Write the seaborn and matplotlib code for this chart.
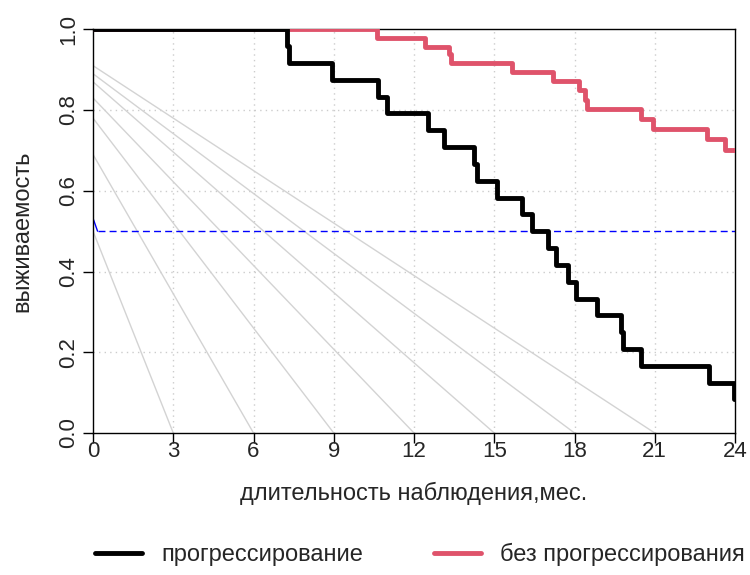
import numpy as np
import pandas as pd
import matplotlib
matplotlib.use("Agg")
import matplotlib.pyplot as plt
import seaborn as sns

# --- data ---
prog_times = [0, 7.24, 7.34, 8.95, 10.67, 11.0, 12.53, 13.13, 14.24, 14.34, 15.12, 16.03,
              16.4, 17.0, 17.31, 17.77, 18.04, 18.83, 19.75, 19.8, 20.47, 23.04, 23.96, 24.0]
prog_surv = [1.0, 0.958, 0.917, 0.875, 0.833, 0.792, 0.750, 0.708, 0.667, 0.625, 0.583, 0.542,
             0.500, 0.458, 0.417, 0.375, 0.333, 0.292, 0.250, 0.208, 0.167, 0.125, 0.083, 0.083]

noprog_times = [0, 10.63, 12.41, 13.31, 13.37, 15.67, 17.21, 18.18, 18.39, 18.46,
                20.47, 20.95, 22.94, 23.63, 24.0]
noprog_surv = [1.0, 0.978, 0.956, 0.938, 0.916, 0.895, 0.873, 0.850, 0.826, 0.802,
               0.778, 0.754, 0.728, 0.701, 0.701]

fan_start_y = [0.50, 0.69, 0.78, 0.83, 0.87, 0.89, 0.91]
fan_end_x = [3, 6, 9, 12, 15, 18, 21]

median_x = [0, 0.17, 24]
median_y = [0.532, 0.5, 0.5]

x_ticks = [0, 3, 6, 9, 12, 15, 18, 21, 24]
y_ticks = [0.0, 0.2, 0.4, 0.6, 0.8, 1.0]
labels = ["прогрессирование", "без прогрессирования"]

sns.set_style("white")
plt.rcParams['font.family'] = ['Liberation Sans', 'DejaVu Sans']

fig = plt.figure(figsize=(7.5, 5.75), dpi=100)
ax = fig.add_axes([0.124, 0.247, 0.856, 0.702])

# grid
for xv in x_ticks[1:-1]:
    ax.axvline(xv, color="#cccccc", lw=1, ls=(0, (1, 3)), zorder=0)
for yv in y_ticks[1:-1]:
    ax.axhline(yv, color="#cccccc", lw=1, ls=(0, (1, 3)), zorder=0)

# fan of grey lines
for y0, x1 in zip(fan_start_y, fan_end_x):
    ax.plot([0, x1], [y0, 0], color="#d3d3d3", lw=1, zorder=1)

# median line
ax.plot(median_x[:2], median_y[:2], color="blue", lw=1, zorder=2)
ax.plot(median_x[1:], median_y[1:], color="blue", lw=1, ls=(0, (5, 3)), zorder=2)

df1 = pd.DataFrame({"t": prog_times, "s": prog_surv})
df2 = pd.DataFrame({"t": noprog_times, "s": noprog_surv})
sns.lineplot(data=df2, x="t", y="s", ax=ax, color="#df536b", lw=3.5,
             drawstyle="steps-post", label=labels[1], zorder=3)
sns.lineplot(data=df1, x="t", y="s", ax=ax, color="black", lw=3.5,
             drawstyle="steps-post", label=labels[0], zorder=4)

ax.set_xlim(0, 24)
ax.set_ylim(0, 1)
ax.set_xticks(x_ticks)
ax.set_yticks(y_ticks)
ax.set_xticklabels([str(v) for v in x_ticks], fontsize=16)
ax.set_yticklabels([f"{v:.1f}" for v in y_ticks], fontsize=16, rotation=90, va="center")
ax.tick_params(axis="both", direction="out", length=7, width=1, color="black",
               bottom=True, left=True)
ax.tick_params(axis="x", pad=-1)
ax.tick_params(axis="y", pad=3)
for sp in ax.spines.values():
    sp.set_visible(True)
    sp.set_color("black")
    sp.set_linewidth(1)

ax.set_xlabel("длительность наблюдения,мес.", fontsize=17, labelpad=14)
ax.set_ylabel("выживаемость", fontsize=17, labelpad=18)

ax.get_legend().remove()
h, l = ax.get_legend_handles_labels()
order = [l.index(labels[0]), l.index(labels[1])]
fig.legend([h[i] for i in order], [l[i] for i in order], loc="center",
           bbox_to_anchor=(0.56, 0.035), ncol=2, frameon=False, fontsize=17,
           handlelength=2.0, columnspacing=3.0, handletextpad=0.8)

fig.savefig("out.png", dpi=100)
